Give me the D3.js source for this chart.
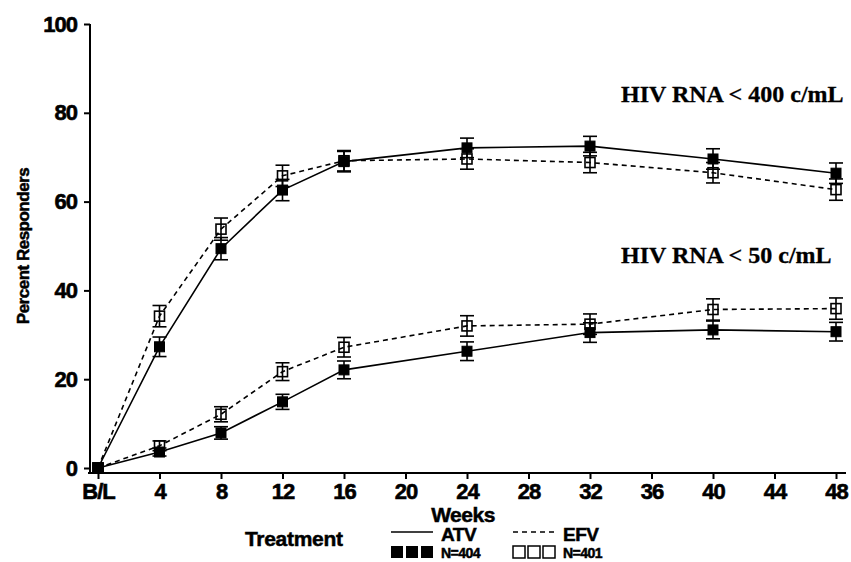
<!DOCTYPE html>
<html>
<head>
<meta charset="utf-8">
<script src="https://cdn.jsdelivr.net/npm/d3@7"></script>
<style>
  body { margin: 0; background: #fff; }
  text { font-family: "Liberation Sans", Arial, sans-serif; font-weight: bold; fill: #000; stroke: #000; stroke-width: 0.5px; }
  .serif { font-family: "Liberation Serif", "Times New Roman", serif; stroke-width: 0.3px; }
</style>
</head>
<body>
<div id="chart"></div>
<script>
// weeks, B/L = 0
let weeks = [0, 4, 8, 12, 16, 24, 32, 40, 48]
let xTicks = [0, 4, 8, 12, 16, 20, 24, 28, 32, 36, 40, 44, 48]
let yTicks = [0, 20, 40, 60, 80, 100]

// HIV RNA < 400 c/mL
let atv400 = [0, 27.3, 49.4, 62.6, 69.0, 72.1, 72.5, 69.6, 66.4]
let efv400 = [0, 34.2, 53.8, 65.8, 69.2, 69.6, 68.8, 66.5, 62.7]
let atv400Err = [0, 2.2, 2.5, 2.4, 2.3, 2.2, 2.2, 2.3, 2.3]
let efv400Err = [0, 2.4, 2.5, 2.4, 2.3, 2.3, 2.3, 2.3, 2.4]

// HIV RNA < 50 c/mL
let atv50 = [0, 3.6, 7.9, 14.9, 22.1, 26.3, 30.5, 31.1, 30.7]
let efv50 = [0, 5.0, 12.1, 21.7, 27.2, 32.0, 32.4, 35.7, 35.9]
let atv50Err = [0, 0.9, 1.4, 1.7, 2.0, 2.1, 2.2, 2.0, 2.1]
let efv50Err = [0, 1.1, 1.7, 2.0, 2.2, 2.3, 2.3, 2.4, 2.4]

let series = [
    { vals: atv400, err: atv400Err, filled: true },
    { vals: efv400, err: efv400Err, filled: false },
    { vals: atv50, err: atv50Err, filled: true },
    { vals: efv50, err: efv50Err, filled: false }
]

let width = 851, height = 562
let svg = d3.select('#chart').append('svg')
    .attr('width', width)
    .attr('height', height)

let x = d3.scaleLinear().domain([0, 48]).range([98, 836])
let y = d3.scaleLinear().domain([0, 100]).range([468, 24])

// axes
let yAxis = svg.append('g')
    .attr('transform', 'translate(90,0)')
    .call(d3.axisLeft(y).tickValues(yTicks).tickSize(6).tickPadding(7))
let xAxis = svg.append('g')
    .attr('transform', 'translate(0,473)')
    .call(d3.axisBottom(x).tickValues(xTicks).tickSize(6).tickPadding(4)
        .tickFormat(d => d === 0 ? 'B/L' : d))
yAxis.select('.domain').attr('d', 'M0,' + y(100) + 'V473')
xAxis.select('.domain').attr('d', 'M88,0H846')
svg.selectAll('.domain, .tick line').attr('stroke', '#000').attr('stroke-width', 2)
svg.selectAll('.tick text')
    .style('font-size', '22px')
    .style('letter-spacing', '-1px')
    .style('font-family', '"Liberation Sans", Arial, sans-serif')
    .style('font-weight', 'bold')
    .style('stroke', '#000')
    .style('stroke-width', '0.6px')
    .attr('fill', '#000')

// lines
let line = d3.line().x((d, i) => x(weeks[i])).y(d => y(d))
series.forEach(s => {
    svg.append('path')
        .attr('d', line(s.vals))
        .attr('fill', 'none')
        .attr('stroke', '#000')
        .attr('stroke-width', 1.6)
        .attr('stroke-dasharray', s.filled ? null : '5,4')
})

// error bars
let cap = 7
series.forEach(s => {
    let g = svg.append('g').attr('stroke', '#000').attr('stroke-width', 1.6)
    s.vals.forEach((v, i) => {
        if (!s.err[i]) return
        let cx = x(weeks[i]), top = y(v + s.err[i]), bot = y(v - s.err[i])
        g.append('line').attr('x1', cx).attr('x2', cx).attr('y1', top).attr('y2', bot)
        g.append('line').attr('x1', cx - cap).attr('x2', cx + cap).attr('y1', top).attr('y2', top)
        g.append('line').attr('x1', cx - cap).attr('x2', cx + cap).attr('y1', bot).attr('y2', bot)
    })
})

// markers: open first, filled on top
let sz = 10
series.slice().sort((a, b) => a.filled - b.filled).forEach(s => {
    svg.append('g').selectAll('rect')
        .data(s.vals)
        .enter().append('rect')
        .attr('x', (d, i) => x(weeks[i]) - sz / 2)
        .attr('y', d => y(d) - sz / 2)
        .attr('width', sz)
        .attr('height', sz)
        .attr('fill', s.filled ? '#000' : 'none')
        .attr('stroke', '#000')
        .attr('stroke-width', s.filled ? 1 : 1.6)
})

// annotations
svg.append('text').attr('class', 'serif')
    .attr('x', 621).attr('y', 102)
    .style('font-size', '24px')
    .text('HIV RNA < 400 c/mL')
svg.append('text').attr('class', 'serif')
    .attr('x', 621).attr('y', 263)
    .style('font-size', '24px')
    .text('HIV RNA < 50 c/mL')

// axis titles
svg.append('text')
    .attr('transform', 'translate(29,246) rotate(-90)')
    .attr('text-anchor', 'middle')
    .style('font-size', '17px')
    .style('letter-spacing', '-0.5px')
    .text('Percent Responders')
svg.append('text')
    .attr('x', 463).attr('y', 522)
    .attr('text-anchor', 'middle')
    .style('font-size', '21px')
    .style('letter-spacing', '-0.5px')
    .text('Weeks')

// legend
let leg = svg.append('g')
leg.append('text').attr('x', 245).attr('y', 546)
    .style('font-size', '21px').style('letter-spacing', '-0.3px')
    .text('Treatment')
let legItems = [
    { label: 'ATV', n: 'N=404', filled: true, x0: 391 },
    { label: 'EFV', n: 'N=401', filled: false, x0: 513 }
]
legItems.forEach(d => {
    leg.append('line')
        .attr('x1', d.x0).attr('x2', d.x0 + 42)
        .attr('y1', 532).attr('y2', 532)
        .attr('stroke', '#000').attr('stroke-width', 1.6)
        .attr('stroke-dasharray', d.filled ? null : '5,4')
    leg.append('text').attr('x', d.x0 + 50).attr('y', 541)
        .style('font-size', '19px').style('letter-spacing', '-0.5px')
        .text(d.label)
    leg.selectAll(null).data([0, 1, 2]).enter().append('rect')
        .attr('x', k => d.x0 + k * 15)
        .attr('y', 546)
        .attr('width', 12).attr('height', 12)
        .attr('fill', d.filled ? '#000' : 'none')
        .attr('stroke', '#000').attr('stroke-width', d.filled ? 0 : 1.5)
    leg.append('text').attr('x', d.x0 + 50).attr('y', 558)
        .style('font-size', '14px').style('letter-spacing', '-0.5px')
        .text(d.n)
})
</script>
</body>
</html>
